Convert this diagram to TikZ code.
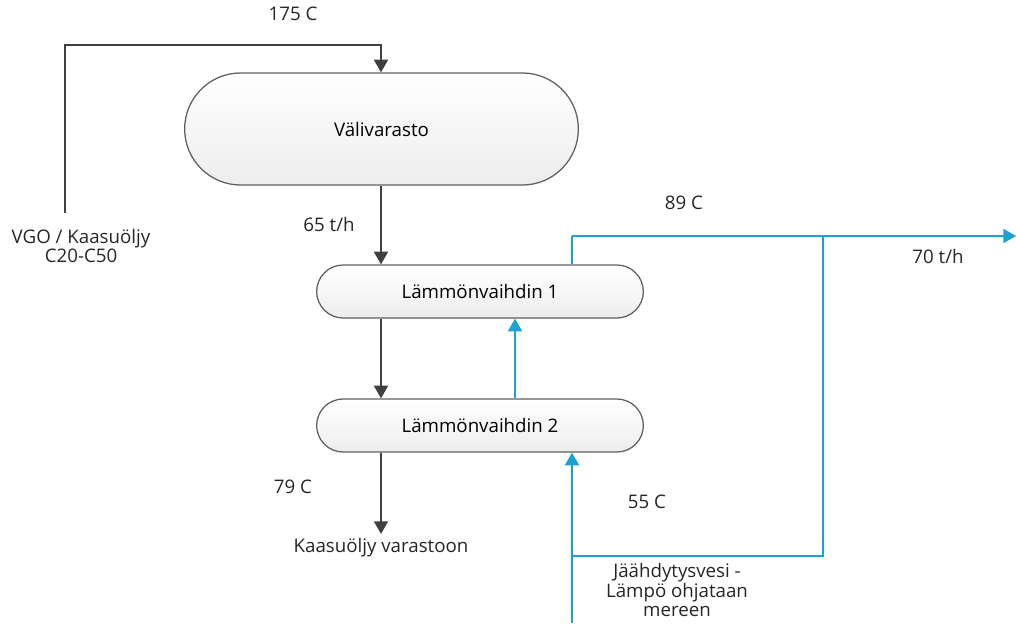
\documentclass[tikz,border=0pt]{standalone}
\usepackage{fontspec}
\setmainfont{Open Sans}
\usetikzlibrary{calc,positioning,arrows.meta,shapes.misc}
\definecolor{oilline}{HTML}{404040}
\definecolor{waterline}{HTML}{1BA1D4}
\tikzset{
  process box/.style={
    rounded rectangle,
    draw=gray!75!black,
    top color=white,
    bottom color=gray!14,
    line width=0.9pt,
    font=\fontsize{13.3}{15}\selectfont
  },
  oil flow/.style={draw=oilline, line width=1.2pt, -{Triangle[width=10pt,length=9pt]}},
  water flow/.style={draw=waterline, line width=1.2pt, -{Triangle[width=10pt,length=9pt]}},
  water pipe/.style={draw=waterline, line width=1.2pt},
  flow label/.style={font=\fontsize{13.3}{15}\selectfont, text=black!85, align=center}
}

\begin{document}
\begin{tikzpicture}[x=0.025cm,y=-0.025cm]

  \useasboundingbox (0,0) rectangle (1016,623);

  \node [process box, minimum width=10.075cm, minimum height=2.8cm] at(381.5,129) (storage_tank) {Välivarasto};
  \node [process box, minimum width=8.4cm, minimum height=1.325cm] at(480,291.5) (hx_1) {Lämmönvaihdin 1};
  \node [process box, minimum width=8.4cm, minimum height=1.325cm] at(480,425.5) (hx_2) {Lämmönvaihdin 2};

  % gas oil side
  \coordinate (feed_start) at(65,213);
  \coordinate (feed_corner) at(65,45);
  \node [flow label, inner sep=1pt] at(381,548) (oil_out) {Kaasuöljy varastoon};
  \draw[oil flow] (feed_start) -- (feed_corner) -| ($(storage_tank.north)+(-0.5,0)$);
  \draw[oil flow] ($(storage_tank.south)+(-0.5,0)$) -- ($(hx_1.north)+(-99,0)$);
  \draw[oil flow] ($(hx_1.south)+(-99,0)$) -- ($(hx_2.north)+(-99,0)$);
  \draw[oil flow] ($(hx_2.south)+(-99,0)$) -- ($(oil_out.north)+(0,-3)$);

  % cooling water side
  \coordinate (water_in) at(572,623);
  \coordinate (water_top) at(572,236);
  \coordinate (water_split) at(823,236);
  \coordinate (water_out) at(1016,236);
  \coordinate (water_back) at(823,556);
  \draw[water flow] (water_in) -- ($(hx_2.south)+(92,0)$);
  \draw[water flow] ($(hx_2.north)+(35,0)$) -- ($(hx_1.south)+(35,0)$);
  \draw[water pipe] ($(hx_1.north)+(92,0)$) -- (water_top);
  \draw[water flow] (water_top) -- (water_out);
  \draw[water pipe] (water_split) -- (water_back) -- (572,556);

  % labels
  \node [flow label] at(293,14) (t_feed) {175 C};
  \node [flow label] at(329,224) (m_oil) {65 t/h};
  \node [flow label, font=\fontsize{13.3}{12}\selectfont] at(81,246) (feed_label) {VGO / Kaasuöljy\\C20-C50};
  \node [flow label] at(684,203) (t_water_out) {89 C};
  \node [flow label] at(938,256) (m_water) {70 t/h};
  \node [flow label] at(293,487) (t_oil_out) {79 C};
  \node [flow label] at(647,502) (t_water_in) {55 C};
  \node [flow label, font=\fontsize{13.3}{13}\selectfont] at(677,590) (water_label) {Jäähdytysvesi -\\Lämpö ohjataan\\mereen};

\end{tikzpicture}
\end{document}
